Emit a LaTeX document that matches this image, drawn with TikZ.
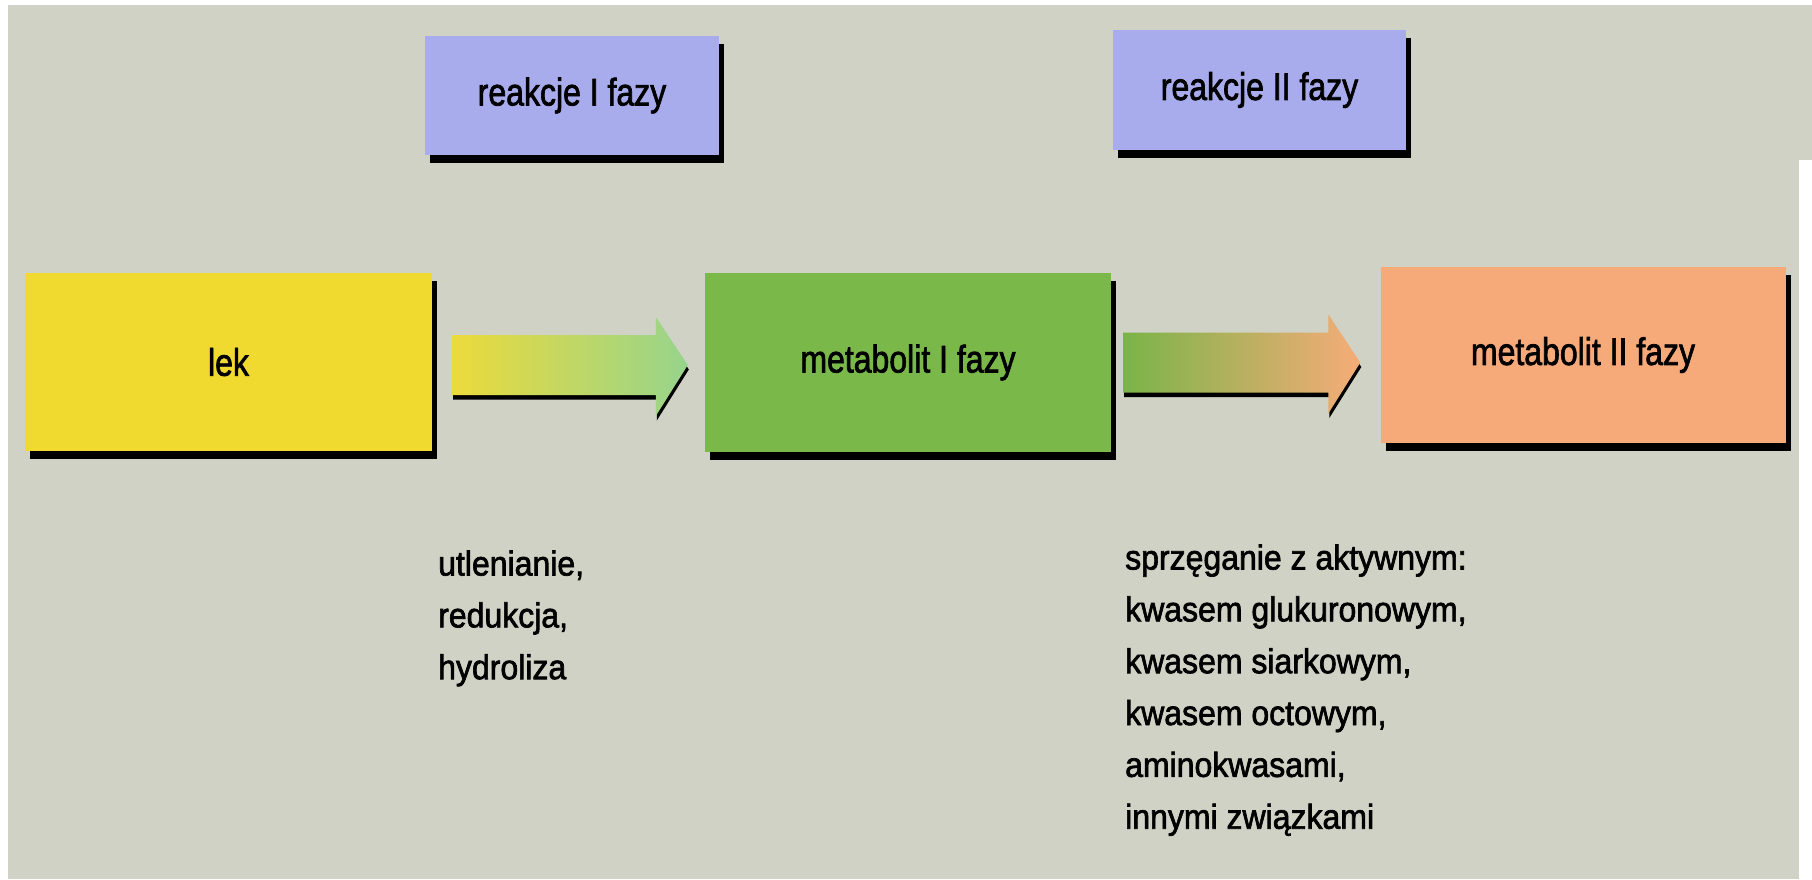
\documentclass[tikz,border=0pt]{standalone}
\usepackage{fontspec}
\setmainfont{Liberation Sans}
\newfontfamily\txtfont[FakeBold=2]{Liberation Sans}
\usetikzlibrary{calc,shadows}
\definecolor{bgc}{RGB}{208,210,197}
\definecolor{lav}{RGB}{168,172,236}
\definecolor{yel}{RGB}{240,218,48}
\definecolor{grn}{RGB}{122,184,74}
\definecolor{sal}{RGB}{246,170,122}
\definecolor{aya}{RGB}{236,218,60}
\definecolor{agr}{RGB}{150,212,140}
\definecolor{agd}{RGB}{122,180,72}
\definecolor{asl}{RGB}{246,172,120}
\newcommand\blockarrowpath[2]{($(#1)+(0,-30)$) -- ($(#2)+(-32,-30)$) -- ($(#2)+(-32,-48)$) -- (#2) -- ($(#2)+(-32,51)$) -- ($(#2)+(-32,30)$) -- ($(#1)+(0,30)$) -- cycle}
\newcommand\blockarrow[4]{%
  \begin{scope}[transform canvas={xshift=1pt,yshift=-4.5pt}]
    \fill[black] \blockarrowpath{#1}{#2};
  \end{scope}
  \shade[left color=#3, right color=#4] \blockarrowpath{#1}{#2};
}
\newcommand\boxlabel[1]{\scalebox{1}[1.2]{#1}}
\newcommand\listlines[1]{\scalebox{1}[1.08]{\begin{tabular}{@{}l@{}}#1\end{tabular}}}
\begin{document}
\begin{tikzpicture}[x=1pt,y=-1pt,
  box/.style={rectangle, inner sep=0pt, font=\txtfont\fontsize{32}{38}\selectfont,
    drop shadow={shadow xshift=5pt, shadow yshift=-8pt, shadow scale=1, opacity=1, fill=black}},
  listtext/.style={anchor=north west, inner sep=0pt,
    font=\txtfont\fontsize{32}{48}\selectfont}]
\useasboundingbox (0,0) rectangle (1812,879);
\fill[bgc] (0,0) rectangle (1812,879);
\fill[white] (0,0) rectangle (8,879);
\fill[white] (0,0) rectangle (1812,5);
\fill[white] (1799,160) rectangle (1812,879);

\node[box, fill=lav, minimum width=294pt, minimum height=119pt] (r1) at (572,95.5) {\boxlabel{reakcje I fazy}};
\node[box, fill=lav, minimum width=293pt, minimum height=120pt] (r2) at (1259.5,90) {\boxlabel{reakcje II fazy}};
\node[box, fill=yel, minimum width=407pt, minimum height=178pt] (lek) at (228.5,362) {\boxlabel{lek}};
\node[box, fill=grn, minimum width=406pt, minimum height=179pt] (m1) at (908,362.5) {\boxlabel{metabolit I fazy}};
\node[box, fill=sal, minimum width=405pt, minimum height=176pt] (m2) at (1583,355) {\boxlabel{metabolit II fazy}};

\coordinate (a1s) at ($(lek.east)+(20,3)$);
\coordinate (a1e) at ($(m1.west |- a1s)+(-17,0)$);
\coordinate (a2s) at ($(m1.east)+(12,0)$);
\coordinate (a2e) at ($(m2.west |- a2s)+(-20,0)$);
\blockarrow{a1s}{a1e}{aya}{agr}
\blockarrow{a2s}{a2e}{agd}{asl}

\node[listtext] (t1) at (438,539) {\listlines{utlenianie,\\redukcja,\\hydroliza}};
\node[listtext] (t2) at (1125,533) {\listlines{sprzęganie z aktywnym:\\kwasem glukuronowym,\\kwasem siarkowym,\\kwasem octowym,\\aminokwasami,\\innymi związkami}};
\end{tikzpicture}
\end{document}
